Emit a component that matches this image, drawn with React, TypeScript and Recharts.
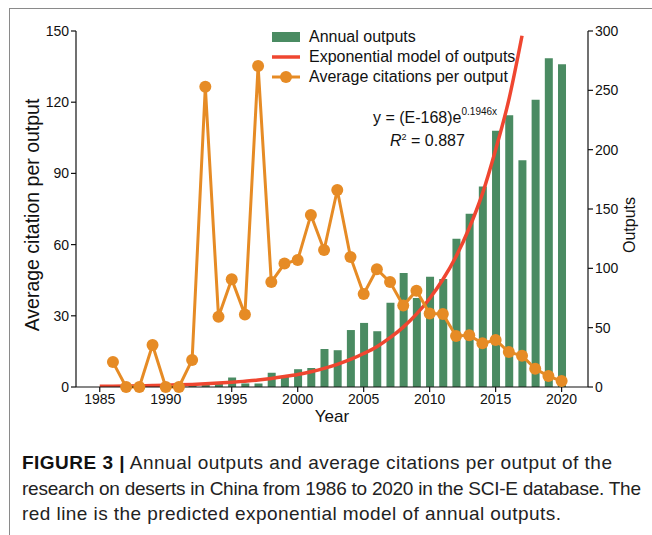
import React from 'react';
import { ComposedChart, Bar, Line, XAxis, YAxis } from 'recharts';

const years = [
  1985, 1986, 1987, 1988, 1989, 1990, 1991, 1992, 1993, 1994, 1995, 1996,
  1997, 1998, 1999, 2000, 2001, 2002, 2003, 2004, 2005, 2006, 2007, 2008,
  2009, 2010, 2011, 2012, 2013, 2014, 2015, 2016, 2017, 2018, 2019, 2020,
];

// annual outputs (right axis), 1985 has none
const outputs = [
  null, 1, 1, 1, 1, 1, 2, 1, 2, 3, 8, 3,
  3, 12, 9, 15, 16, 32, 31, 48, 54, 47, 71, 96,
  75, 93, 91, 125, 146, 169, 216, 229, 191, 242, 277, 272,
];

// average citations per output (left axis)
const citations = [
  null, 10.5, 0, 0, 17.7, 0, 0, 11.4, 126.5, 29.6, 45.4, 30.5,
  135.3, 44.2, 52, 53.5, 72.5, 57.7, 83, 54.8, 39.2, 49.6, 44.2, 34.3,
  40.6, 31, 30.8, 21.5, 21.8, 18.4, 19.8, 14.7, 13.2, 7.7, 4.6, 2.5,
];

// exponential model curve (right axis)
const model = [
  0.6, 0.7, 0.8, 1.0, 1.2, 1.5, 1.8, 2.2, 2.7, 3.3, 4.0, 4.9,
  5.9, 7.2, 8.8, 10.6, 12.9, 15.7, 19.1, 23.2, 28.2, 34, 41.6, 50.5,
  61.4, 74.6, 90.6, 110, 134, 163, 200, 242, 296, null, null, null,
];

const xTicks = [1985, 1990, 1995, 2000, 2005, 2010, 2015, 2020];
const leftTicks = [0, 30, 60, 90, 120, 150];
const rightTicks = [0, 50, 100, 150, 200, 250, 300];

const captionLines = [
  'Annual outputs and average citations per output of the',
  'research on deserts in China from 1986 to 2020 in the SCI-E database. The',
  'red line is the predicted exponential model of annual outputs.',
];

const data = years.map((year, i) => ({
  year,
  outputs: outputs[i],
  citations: citations[i],
  model: model[i],
}));

const GREEN = '#4a8b62';
const RED = '#ef4630';
const ORANGE = '#e68b25';
const FONT = '"Liberation Sans", Arial, sans-serif';

function ChartLegend() {
  const row = { display: 'flex', alignItems: 'center', height: 20 } as const;
  const text = { marginLeft: 9, fontSize: 16, color: '#111', whiteSpace: 'nowrap' } as const;
  return (
    <div style={{ position: 'absolute', left: 272, top: 27, fontFamily: FONT }}>
      <div style={row}>
        <svg width={28} height={12}><rect x={0} y={1} width={28} height={10} fill={GREEN} /></svg>
        <span style={text}>Annual outputs</span>
      </div>
      <div style={row}>
        <svg width={28} height={12}><line x1={0} x2={28} y1={6} y2={6} stroke={RED} strokeWidth={3.5} /></svg>
        <span style={text}>Exponential model of outputs</span>
      </div>
      <div style={row}>
        <svg width={28} height={14}>
          <line x1={0} x2={28} y1={7} y2={7} stroke={ORANGE} strokeWidth={3} />
          <circle cx={14} cy={7} r={6} fill={ORANGE} />
        </svg>
        <span style={text}>Average citations per output</span>
      </div>
    </div>
  );
}

export default function App() {
  const tick = { fontSize: 14, fill: '#111', fontFamily: FONT };
  const axisLine = { stroke: '#111', strokeWidth: 1.2 };
  return (
    <div
      style={{
        position: 'absolute',
        left: 0,
        top: 0,
        width: 652,
        height: 535,
        background: '#fff',
        fontFamily: FONT,
        overflow: 'hidden',
      }}
    >
      <div
        style={{
          position: 'absolute',
          left: 9,
          top: 8,
          width: 660,
          height: 540,
          borderLeft: '1px solid #8a8a8a',
          borderTop: '1px solid #8a8a8a',
        }}
      />
      <div style={{ position: 'absolute', left: 0, top: 0 }}>
        <ComposedChart width={652} height={440} data={data} margin={{ top: 31, right: 0, bottom: 0, left: 0 }}>
          <XAxis
            dataKey="year"
            type="number"
            domain={[1983.2, 2022]}
            ticks={xTicks}
            allowDataOverflow
            height={53}
            tick={tick}
            tickSize={5}
            axisLine={axisLine}
            tickLine={axisLine}
            label={{ value: 'Year', position: 'center', dy: 2, fontSize: 17, fill: '#111', fontFamily: FONT }}
          />
          <YAxis
            yAxisId="left"
            orientation="left"
            domain={[0, 150]}
            ticks={leftTicks}
            width={76}
            tick={tick}
            tickSize={5}
            axisLine={axisLine}
            tickLine={axisLine}
            label={{
              value: 'Average citation per output',
              angle: -90,
              position: 'center',
              dx: -6,
              dy: 6,
              fontSize: 19.5,
              fill: '#111',
              fontFamily: FONT,
            }}
          />
          <YAxis
            yAxisId="right"
            orientation="right"
            domain={[0, 300]}
            ticks={rightTicks}
            allowDataOverflow
            width={64}
            tick={tick}
            tickSize={5}
            axisLine={axisLine}
            tickLine={axisLine}
            label={{
              value: 'Outputs',
              angle: -90,
              position: 'center',
              dx: 9,
              dy: 16,
              fontSize: 16,
              fill: '#111',
              fontFamily: FONT,
            }}
          />
          <Bar yAxisId="right" dataKey="outputs" fill={GREEN} barSize={8} isAnimationActive={false} />
          <Line
            yAxisId="right"
            dataKey="model"
            type="monotone"
            stroke={RED}
            strokeWidth={3.5}
            dot={false}
            connectNulls={false}
            isAnimationActive={false}
          />
          <Line
            yAxisId="left"
            dataKey="citations"
            type="linear"
            stroke={ORANGE}
            strokeWidth={3}
            dot={{ r: 6, fill: ORANGE, stroke: ORANGE, strokeWidth: 0 }}
            isAnimationActive={false}
          />
        </ComposedChart>
      </div>
      <ChartLegend />
      <div style={{ position: 'absolute', left: 373, top: 108, fontSize: 16, color: '#111', whiteSpace: 'nowrap' }}>
        y = (E-168)e<sup style={{ fontSize: 10, position: 'relative', top: -2 }}>0.1946x</sup>
      </div>
      <div style={{ position: 'absolute', left: 390, top: 132, fontSize: 16, color: '#111', whiteSpace: 'nowrap' }}>
        <i>R</i>
        <sup style={{ fontSize: 9 }}>2</sup> = 0.887
      </div>
      <svg style={{ position: 'absolute', left: 0, top: 440 }} width={652} height={95}>
        <text x={22} y={29} fontSize={19} fontFamily={FONT} fill="#222" textLength={590} lengthAdjust="spacing">
          <tspan fontWeight="bold" fill="#111">FIGURE 3 |</tspan> {captionLines[0]}
        </text>
        <text x={22} y={54.5} fontSize={19} fontFamily={FONT} fill="#222" textLength={619} lengthAdjust="spacing">
          {captionLines[1]}
        </text>
        <text x={22} y={80} fontSize={19} fontFamily={FONT} fill="#222" textLength={539} lengthAdjust="spacing">
          {captionLines[2]}
        </text>
      </svg>
    </div>
  );
}
